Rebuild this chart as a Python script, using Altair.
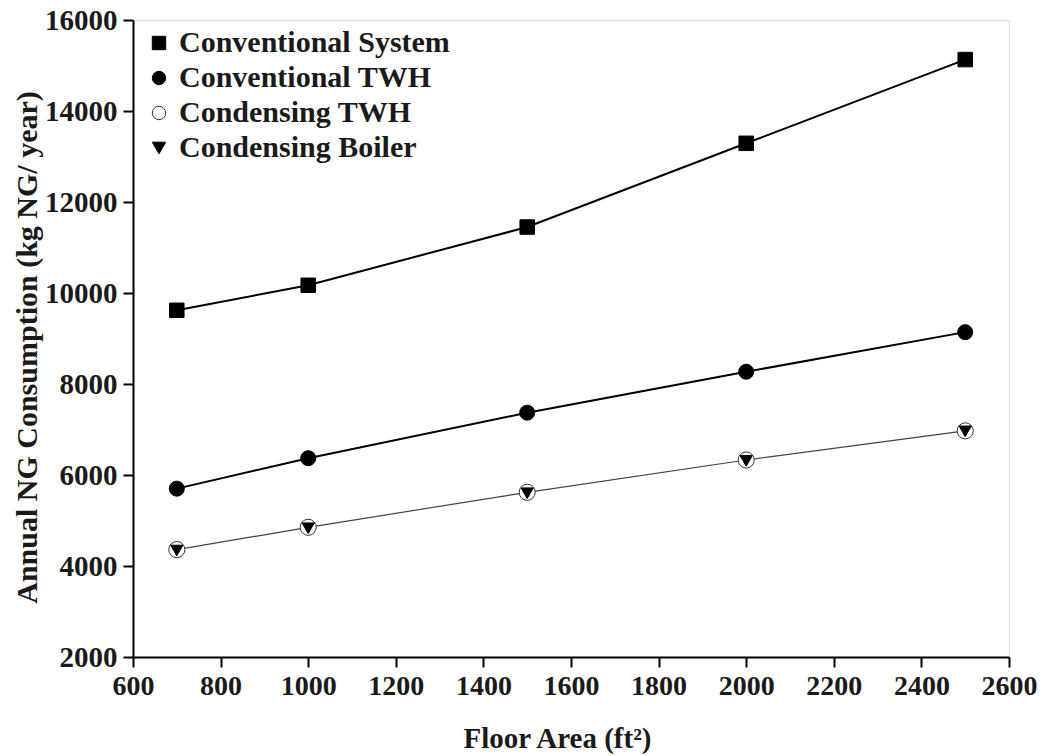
import altair as alt
import pandas as pd

floor_area = [700, 1000, 1500, 2000, 2500]
conventional_system = [9620, 10170, 11450, 13290, 15130]
conventional_twh = [5700, 6370, 7370, 8270, 9140]
condensing_twh = [4360, 4850, 5620, 6330, 6970]
condensing_boiler = [4340, 4830, 5600, 6310, 6960]

series_names = ["Conventional System", "Conventional TWH", "Condensing TWH", "Condensing Boiler"]
series_values = [conventional_system, conventional_twh, condensing_twh, condensing_boiler]
marker_sizes = [210, 225, 260, 150]

x_ticks = [600, 800, 1000, 1200, 1400, 1600, 1800, 2000, 2200, 2400, 2600]
y_ticks = [2000, 4000, 6000, 8000, 10000, 12000, 14000, 16000]

rows = []
for name, vals in zip(series_names, series_values):
    for xa, v in zip(floor_area, vals):
        rows.append({"area": xa, "value": v, "series": name})
df = pd.DataFrame(rows)

FONT = "Liberation Serif"

x_enc = alt.X("area:Q", scale=alt.Scale(domain=[600, 2600], nice=False),
              axis=alt.Axis(values=x_ticks, format="d", title="Floor Area (ft²)", grid=False,
                            tickSize=10, tickWidth=2, domainWidth=2, domainColor="black", tickColor="black",
                            labelFont=FONT, labelFontSize=28, labelFontWeight="bold", labelColor="#1a1a1a",
                            labelPadding=5, labelFlush=False,
                            titleFont=FONT, titleFontSize=29, titleFontWeight="bold", titleColor="#1a1a1a",
                            titleX=424, titleY=90, titleBaseline="alphabetic", titleAlign="center"))
y_enc = alt.Y("value:Q", scale=alt.Scale(domain=[2000, 16000], nice=False),
              axis=alt.Axis(values=y_ticks, format="d", title="Annual NG Consumption (kg NG/ year)", grid=False,
                            tickSize=10, tickWidth=2, domainWidth=2, domainColor="black", tickColor="black",
                            labelFont=FONT, labelFontSize=29, labelFontWeight="bold", labelColor="#1a1a1a",
                            labelPadding=6, labelFlush=False,
                            titleFont=FONT, titleFontSize=30, titleFontWeight="bold", titleColor="#1a1a1a",
                            titleX=-97, titleY=327, titleAngle=270, titleBaseline="alphabetic", titleAlign="center"))

lines = alt.Chart(df).mark_line().encode(
    x=x_enc, y=y_enc,
    detail="series:N",
    color=alt.value("black"),
    strokeWidth=alt.value(2),
).transform_filter(alt.FieldOneOfPredicate(field="series", oneOf=series_names[:2]))

lines_thin = alt.Chart(df).mark_line(color="#444444", strokeWidth=1.2).encode(
    x="area:Q", y="value:Q",
).transform_filter(alt.FieldEqualPredicate(field="series", equal=series_names[2]))

legend = alt.Legend(title=None, orient="none", legendX=11, legendY=8,
                    labelFont=FONT, labelFontSize=30, labelFontWeight="bold", labelColor="#1a1a1a",
                    labelOffset=5, labelLimit=500, rowPadding=5, symbolSize=180, symbolStrokeWidth=1)

shape_enc = alt.Shape("series:N", scale=alt.Scale(domain=series_names, range=["square", "circle", "circle", "triangle-down"]), legend=legend)
fill_enc = alt.Fill("series:N", scale=alt.Scale(domain=series_names, range=["black", "black", "white", "black"]), legend=legend)
stroke_enc = alt.Stroke("series:N", scale=alt.Scale(domain=series_names, range=["black", "black", "#333333", "black"]), legend=legend)

point_layers = []
for name, sz in zip(series_names, marker_sizes):
    point_layers.append(
        alt.Chart(df).mark_point(opacity=1, strokeWidth=1, size=sz).encode(
            x="area:Q", y="value:Q", shape=shape_enc, fill=fill_enc, stroke=stroke_enc,
        ).transform_filter(alt.FieldEqualPredicate(field="series", equal=name))
    )

chart = alt.layer(lines, lines_thin, *point_layers).properties(
    width=876, height=637,
    autosize=alt.AutoSizeParams(type="none"),
    padding={"left": 125, "top": 12, "right": 28, "bottom": 97},
).configure_view(stroke="black", strokeWidth=2).configure(background="white")

chart.save("out.html", embed_options={"renderer": "svg", "actions": False})
